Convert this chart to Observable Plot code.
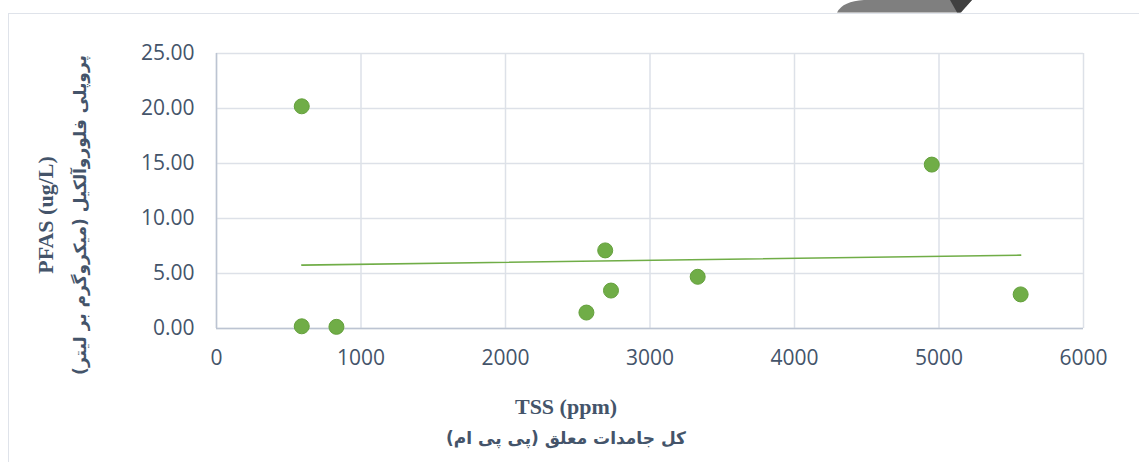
<!DOCTYPE html>
<html>
<head>
<meta charset="utf-8">
<script src="https://cdn.jsdelivr.net/npm/d3@7"></script>
<script src="https://cdn.jsdelivr.net/npm/@observablehq/plot@0.6"></script>
<style>
  html, body { margin: 0; padding: 0; background: #fff; }
  #wrap { position: relative; width: 1139px; height: 462px; overflow: hidden; }
  #border { position: absolute; left: 8px; top: 13px; width: 1140px; height: 460px;
            border-left: 1.5px solid #dfe3ea; border-top: 1.5px solid #dfe3ea; box-sizing: border-box; }
  #deco { position: absolute; left: 0; top: 0; }
  #chart { position: absolute; left: 0; top: 0; }
</style>
</head>
<body>
<div id="wrap">
  <div id="border"></div>
  <svg id="deco" width="1139" height="20">
    <path d="M864,0 L972,0 L960,12.5 L837,12.5 Q843,1 864,0 Z" fill="#7f7f7f"/>
    <path d="M950,0 L972,0 L961,12.5 L957,12.5 Z" fill="#404040"/>
  </svg>
  <div id="chart"></div>
</div>
<script>
// Data
const tss  = [590, 590, 830, 2560, 2690, 2730, 3330, 4950, 5565];
const pfas = [20.2, 0.2, 0.15, 1.45, 7.1, 3.45, 4.7, 14.9, 3.1];
const xTicks = [0, 1000, 2000, 3000, 4000, 5000, 6000];
const yTicks = [0, 5, 10, 15, 20, 25];
const xTitle = "TSS (ppm)";
const xTitleFa = "کل جامدات معلق (پی پی ام)";
const yTitle = "PFAS (ug/L)";
const yTitleFa = "پروپلی فلوروآلکیل (میکروگرم بر لیتر)";

const data = tss.map((x, i) => ({x, y: pfas[i]}));
const green = "#70ad47";
const textColor = "#44546a";

const plot = Plot.plot({
  width: 1139,
  height: 462,
  marginLeft: 216,
  marginRight: 56,
  marginTop: 53,
  marginBottom: 134,
  style: {background: "transparent", fontFamily: "'Open Sans', sans-serif", fontSize: "21px", color: textColor},
  x: {domain: [0, 6000], ticks: xTicks, label: null, tickSize: 0, tickPadding: 22, tickFormat: d => String(d)},
  y: {domain: [0, 25], ticks: yTicks, label: null, tickSize: 0, tickPadding: 22, tickFormat: d => d.toFixed(2)},
  marks: [
    Plot.gridX(xTicks, {stroke: "#dde1e8", strokeOpacity: 1, strokeWidth: 1.5}),
    Plot.gridY(yTicks, {stroke: "#dde1e8", strokeOpacity: 1, strokeWidth: 1.5}),
    Plot.ruleX([0], {stroke: "#bcc4d2", strokeWidth: 1.5}),
    Plot.ruleY([0], {stroke: "#bcc4d2", strokeWidth: 1.5}),
    Plot.linearRegressionY(data, {x: "x", y: "y", stroke: green, strokeWidth: 1.6, ci: 0}),
    Plot.dot(data, {x: "x", y: "y", r: 7.5, fill: green, stroke: "#64a03c", strokeWidth: 1})
  ]
});

const svg = d3.select(plot);
svg.selectAll("[aria-label='x-axis tick label'] text, [aria-label='y-axis tick label'] text").attr("fill", textColor);

const g = svg.append("g").attr("fill", textColor).attr("font-weight", "bold").attr("text-anchor", "middle");
g.append("text").attr("x", 566).attr("y", 414)
  .attr("font-family", "'Liberation Serif', 'Times New Roman', serif").attr("font-size", 22).text(xTitle);
g.append("text").attr("x", 566).attr("y", 444).attr("direction", "rtl")
  .attr("font-family", "'DejaVu Sans', sans-serif").attr("font-size", 17).text(xTitleFa);
g.append("text").attr("transform", "translate(53,215) rotate(-90)")
  .attr("font-family", "'Liberation Serif', 'Times New Roman', serif").attr("font-size", 22).text(yTitle);
g.append("text").attr("transform", "translate(86,215) rotate(-90)").attr("direction", "rtl")
  .attr("font-family", "'DejaVu Sans', sans-serif").attr("font-size", 17).text(yTitleFa);

document.getElementById("chart").appendChild(plot);
</script>
</body>
</html>
